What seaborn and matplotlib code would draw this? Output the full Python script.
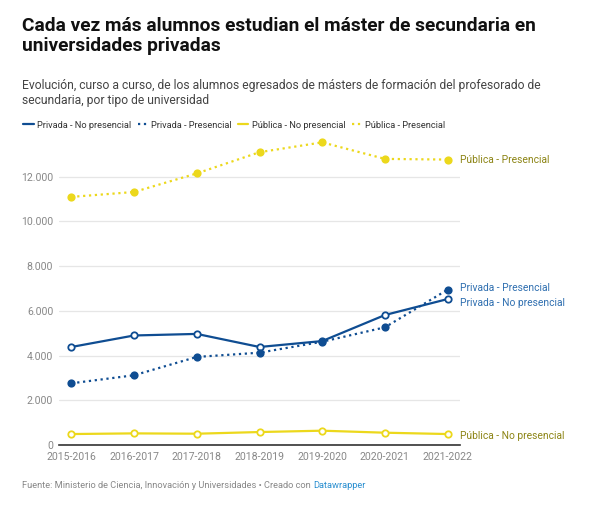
import matplotlib.pyplot as plt
import matplotlib.ticker as ticker
from matplotlib.lines import Line2D
import seaborn as sns
import pandas as pd

sns.set_style("white")
plt.rcParams["font.family"] = ["Roboto", "DejaVu Sans"]

# data
cursos = ["2015-2016", "2016-2017", "2017-2018", "2018-2019", "2019-2020", "2020-2021", "2021-2022"]
privada_no_presencial = [4385, 4900, 4970, 4385, 4650, 5815, 6530]
privada_presencial = [2760, 3120, 3940, 4130, 4620, 5265, 6950]
publica_no_presencial = [490, 520, 505, 580, 640, 550, 490]
publica_presencial = [11100, 11320, 12150, 13100, 13540, 12800, 12770]

azul = "#0f4d92"
amarillo = "#ecd81c"
azul_txt = "#2f6fb0"
oliva_txt = "#8c8414"

series = [
    ("Privada - No presencial", privada_no_presencial, azul, "-", False, azul_txt),
    ("Privada - Presencial", privada_presencial, azul, ":", True, azul_txt),
    ("Pública - No presencial", publica_no_presencial, amarillo, "-", False, oliva_txt),
    ("Pública - Presencial", publica_presencial, amarillo, ":", True, oliva_txt),
]

fig = plt.figure(figsize=(6, 5.16), dpi=100)
ax = fig.add_axes([0.098, 0.1376, 0.669, 0.6008])

for name, vals, color, ls, filled, _ in series:
    df = pd.DataFrame({"curso": range(len(cursos)), "valor": vals})
    sns.lineplot(data=df, x="curso", y="valor", ax=ax, color=color, linestyle=ls,
                 linewidth=1.6, marker="o", markersize=4.6, markeredgewidth=1.3,
                 markeredgecolor=color, markerfacecolor=color if filled else "white")

# end labels next to the last point
offsets = {"Privada - No presencial": -3, "Privada - Presencial": 1,
           "Pública - No presencial": -1.5, "Pública - Presencial": -0.5}
for name, vals, color, ls, filled, txtc in series:
    ax.annotate(name, xy=(len(cursos) - 1, vals[-1]), xytext=(9, offsets[name]),
                textcoords="offset points", va="center", ha="left",
                fontsize=7.4, color=txtc, annotation_clip=False)

ax.set_xlim(-0.2, len(cursos) - 1 + 0.2)
ax.set_ylim(0, 13870)
ax.set_xticks(range(len(cursos)))
ax.set_xticklabels(cursos)
ax.set_yticks([0, 2000, 4000, 6000, 8000, 10000, 12000])
ax.yaxis.set_major_formatter(ticker.FuncFormatter(lambda v, p: f"{int(v):,}".replace(",", ".")))
ax.tick_params(axis="both", length=0, labelsize=7.6, labelcolor="#888888")
ax.tick_params(axis="x", pad=5)
ax.tick_params(axis="y", pad=4)
ax.set_xlabel("")
ax.set_ylabel("")
ax.grid(axis="y", color="#e6e6e6", linewidth=0.9)
ax.grid(axis="x", visible=False)
for s in ["top", "right", "left"]:
    ax.spines[s].set_visible(False)
ax.spines["bottom"].set_color("#333333")
ax.spines["bottom"].set_linewidth(1.2)

# titles
fig.text(22 / 600, 1 - 36 / 516, "Cada vez más alumnos estudian el máster de secundaria en\nuniversidades privadas",
         fontsize=13.8, fontweight="bold", color="#111111", va="center", ha="left", linespacing=1.15)
fig.text(22 / 600, 1 - 93 / 516, "Evolución, curso a curso, de los alumnos egresados de másters de formación del profesorado de\nsecundaria, por tipo de universidad",
         fontsize=8.7, color="#444444", va="center", ha="left", linespacing=1.25)

# legend
handles = [Line2D([0], [0], color=c, linestyle=ls, linewidth=1.6) for _, _, c, ls, _, _ in series]
fig.legend(handles, [s[0] for s in series], loc="center left", bbox_to_anchor=(15 / 600, 1 - 125 / 516),
           ncol=4, frameon=False, fontsize=6.7, handlelength=1.1, handletextpad=0.35,
           columnspacing=0.7, labelcolor="#333333")

# footer
t = fig.text(22 / 600, 1 - 486 / 516, "Fuente: Ministerio de Ciencia, Innovación y Universidades • Creado con ",
             fontsize=6.65, color="#888888", va="center", ha="left")
fig.canvas.draw()
bb = t.get_window_extent()
fig.text(bb.x1 / 600, 1 - 486 / 516, "Datawrapper", fontsize=6.65, color="#2a8fd0", va="center", ha="left")

fig.savefig("out.png", dpi=100)
